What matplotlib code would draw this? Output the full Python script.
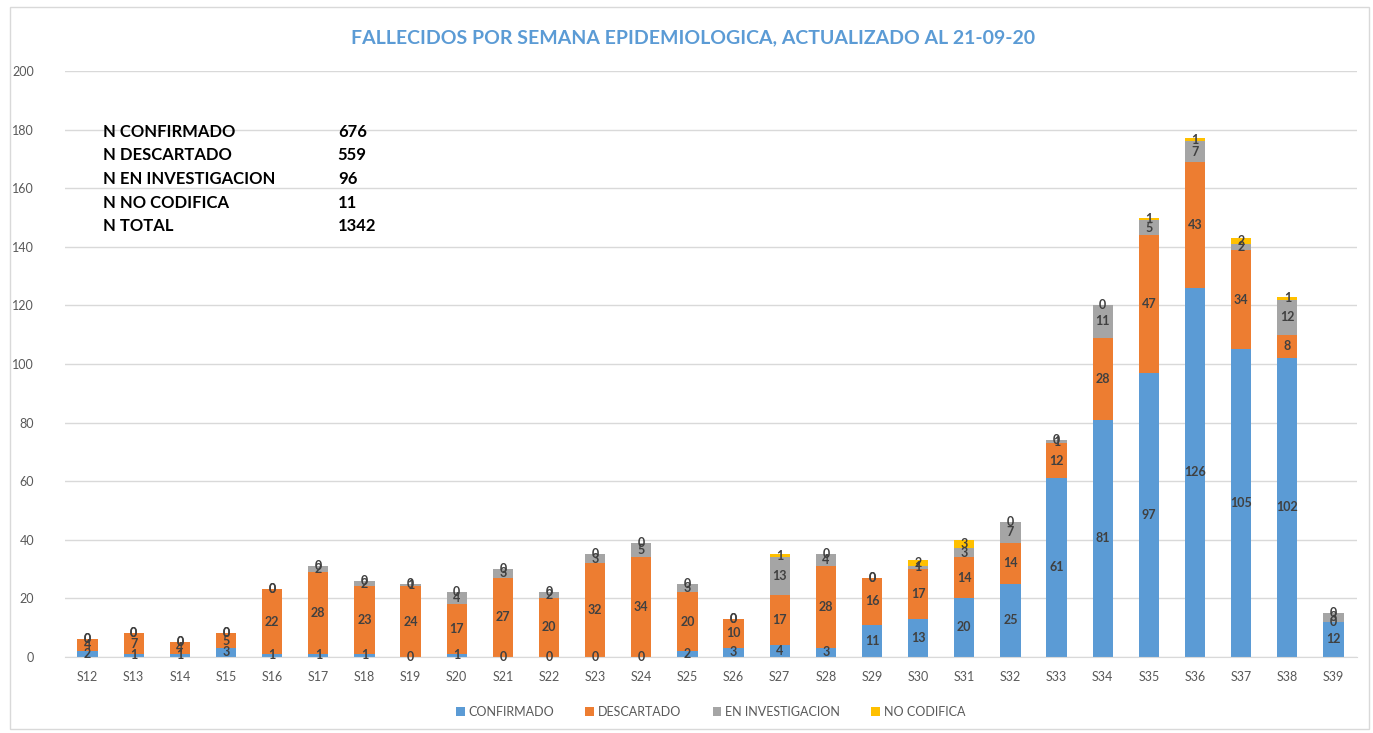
import numpy as np
import matplotlib.pyplot as plt
from matplotlib.patches import Rectangle

plt.rcParams['font.family'] = ['Lato', 'DejaVu Sans']

semanas = ['S%d' % i for i in range(12, 40)]
confirmado = [2, 1, 1, 3, 1, 1, 1, 0, 1, 0, 0, 0, 0, 2, 3, 4, 3, 11, 13, 20, 25, 61, 81, 97, 126, 105, 102, 12]
descartado = [4, 7, 4, 5, 22, 28, 23, 24, 17, 27, 20, 32, 34, 20, 10, 17, 28, 16, 17, 14, 14, 12, 28, 47, 43, 34, 8, 0]
investigacion = [0, 0, 0, 0, 0, 2, 2, 1, 4, 3, 2, 3, 5, 3, 0, 13, 4, 0, 1, 3, 7, 1, 11, 5, 7, 2, 12, 3]
no_codifica = [0, 0, 0, 0, 0, 0, 0, 0, 0, 0, 0, 0, 0, 0, 0, 1, 0, 0, 2, 3, 0, 0, 0, 1, 1, 2, 1, 0]

resumen = [('N CONFIRMADO', '676'), ('N DESCARTADO', '559'), ('N EN INVESTIGACION', '96'),
           ('N NO CODIFICA', '11'), ('N TOTAL', '1342')]

series = [('CONFIRMADO', confirmado, '#5B9BD5'),
          ('DESCARTADO', descartado, '#ED7D31'),
          ('EN INVESTIGACION', investigacion, '#A5A5A5'),
          ('NO CODIFICA', no_codifica, '#FFC000')]

fig = plt.figure(figsize=(13.73, 7.33), dpi=100)
ax = fig.add_axes([0.047, 0.104, 0.941, 0.799])

x = np.arange(len(semanas))
bottom = np.zeros(len(semanas))
for name, vals, col in series:
    vals = np.array(vals, dtype=float)
    ax.bar(x, vals, 0.44, bottom=bottom, color=col, label=name, zorder=2)
    for xi, b, v in zip(x, bottom, vals):
        ax.text(xi, b + v / 2, '%d' % v, ha='center', va='center',
                fontsize=9, fontweight='bold', color='#404040', zorder=3)
    bottom += vals

ax.set_xlim(-0.5, len(semanas) - 0.5)
ax.set_ylim(0, 200)
ax.set_yticks(range(0, 201, 20))
ax.set_xticks(x)
ax.set_xticklabels(semanas)
ax.tick_params(axis='both', length=0, colors='#595959', labelsize=9)
ax.tick_params(axis='x', pad=10)
ax.tick_params(axis='y', pad=22)
ax.grid(axis='y', color='#D9D9D9', lw=1, zorder=0)
for s in ['top', 'right', 'left']:
    ax.spines[s].set_visible(False)
ax.spines['bottom'].set_color('#D9D9D9')

fig.text(0.505, 0.948, 'FALLECIDOS POR SEMANA EPIDEMIOLOGICA, ACTUALIZADO AL 21-09-20',
         ha='center', va='center', fontsize=14, fontweight='bold', color='#5B9BD5')

for i, (lab, val) in enumerate(resumen):
    y = 1 - (132 + i * 23.5) / 733
    fig.text(0.075, y, lab, ha='left', va='center', fontsize=12, fontweight='bold', color='black')
    fig.text(0.246, y, val, ha='left', va='center', fontsize=12, fontweight='bold', color='black')

ax.legend(loc='upper center', bbox_to_anchor=(0.5, -0.065), ncol=4, frameon=False,
          fontsize=9, handlelength=0.7, handleheight=0.7, handletextpad=0.3,
          columnspacing=2.5, labelcolor='#595959')

fig.patches.append(Rectangle((0.007, 0.005), 0.99, 0.985, transform=fig.transFigure,
                             fill=False, edgecolor='#D9D9D9', lw=1))

fig.savefig('out.png', dpi=100)
